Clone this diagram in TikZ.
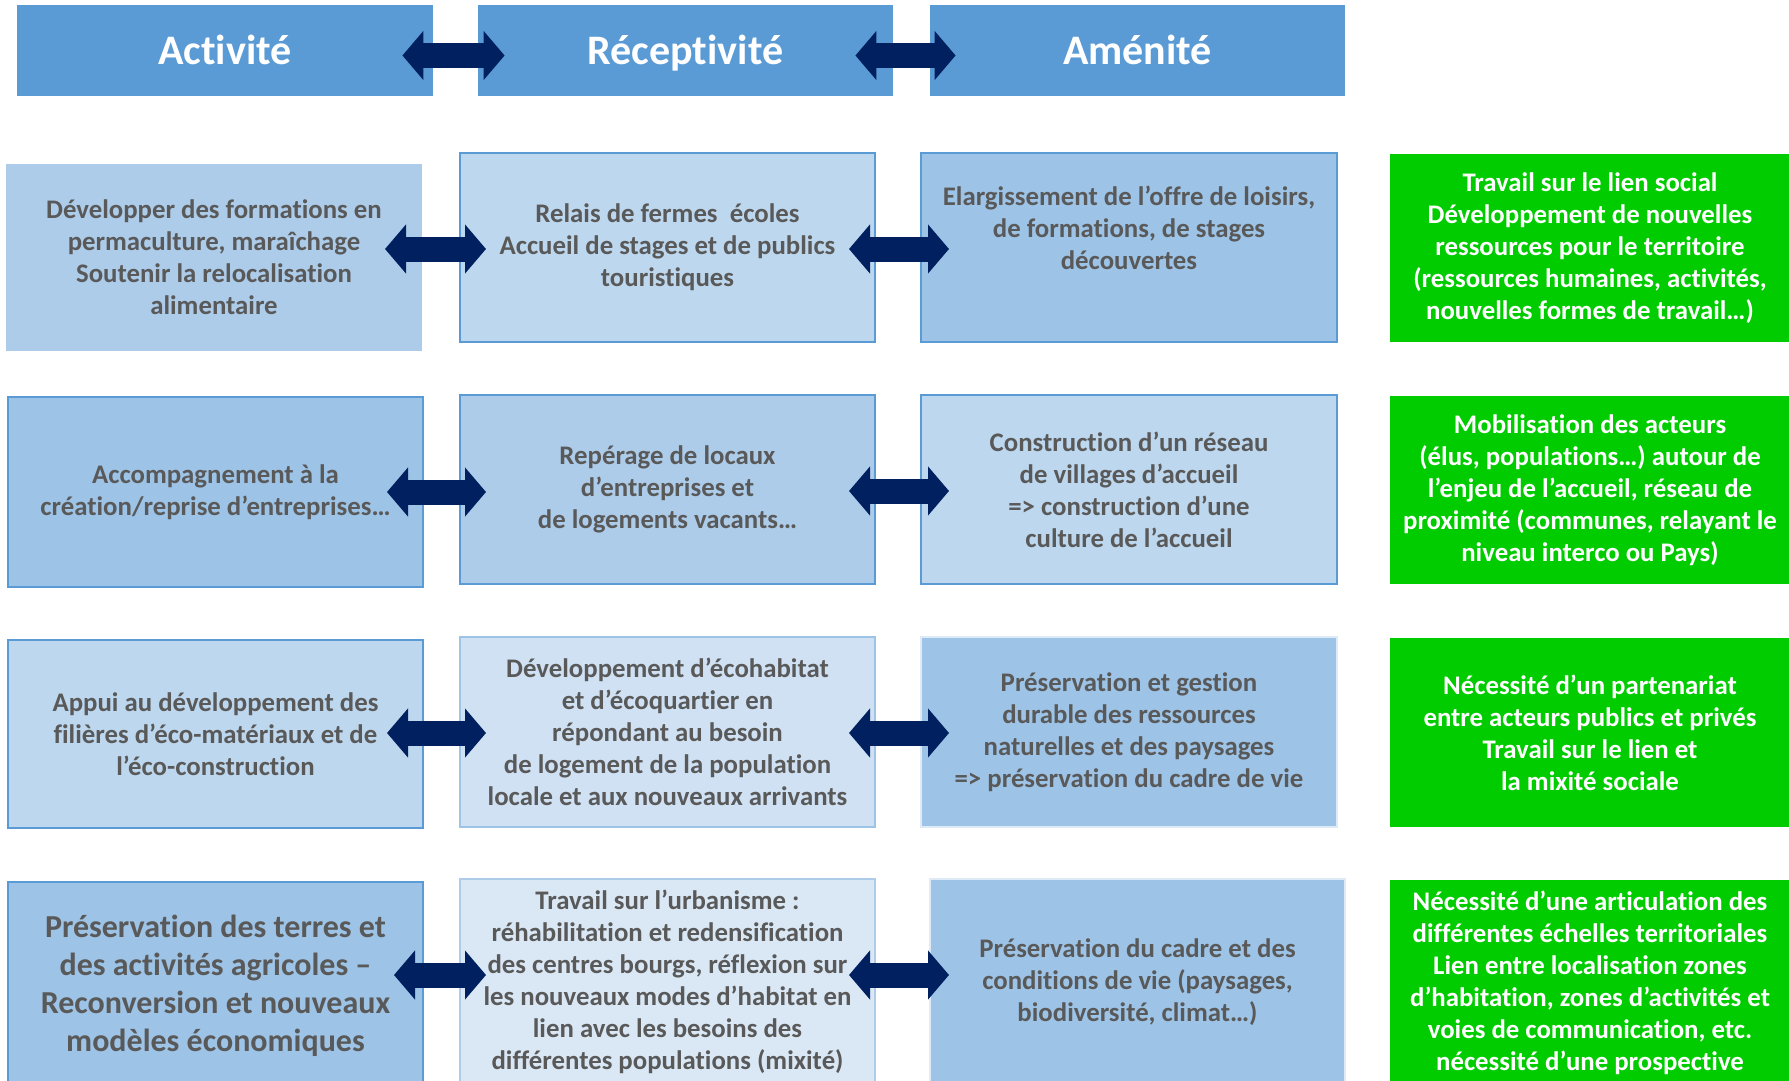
\documentclass[tikz,border=0pt]{standalone}
\usepackage{fontspec}
\setmainfont{Carlito}[Ligatures={NoCommon}]
\usetikzlibrary{arrows.meta}
\definecolor{hdr}{HTML}{5B9BD5}
\definecolor{navy}{HTML}{002060}
\definecolor{txt}{HTML}{595959}
\definecolor{grn}{HTML}{00CC00}
\definecolor{bA}{HTML}{9DC3E6}
\definecolor{bB}{HTML}{ADCCEA}
\definecolor{bC}{HTML}{BDD7EE}
\definecolor{bD}{HTML}{CFE1F3}
\definecolor{bE}{HTML}{DAE8F5}
\definecolor{bF}{HTML}{DEEBF7}
\tikzset{
  box/.style={rectangle, inner sep=0pt, align=center, text=txt,
    font=\bfseries\fontsize{13.4}{16}\selectfont, line width=1pt},
  hbox/.style={rectangle, inner sep=0pt, align=center, text=white, fill=hdr,
    font=\bfseries\fontsize{21}{25}\selectfont, minimum height=45.5pt,
    text height=17pt, text depth=2.6pt},
  gbox/.style={box, fill=grn, text=white},
  dbl/.style={draw=navy, line width=12.5pt,
    {Triangle[length=10.5pt,width=24pt]}-{Triangle[length=10.5pt,width=24pt]}},
}
\begin{document}
\begin{tikzpicture}[x=0.5pt,y=-0.5pt]
\useasboundingbox (0,0) rectangle (1789,1081);
\clip (0,0) rectangle (1789,1081);
% headers
\node[hbox, minimum width=208pt] (hAct) at (225,50.5) {Activité};
\node[hbox, minimum width=207.5pt] (hRec) at (685.5,50.5) {Réceptivité};
\node[hbox, minimum width=207.5pt] (hAme) at (1137.5,50.5) {Aménité};
% row 1
\node[box, fill=bB, minimum width=208pt, minimum height=93.5pt] (r1a) at (214,257.5)
  {Développer des formations en\\permaculture, maraîchage\\Soutenir la relocalisation\\alimentaire};
\node[box, fill=bC, draw=hdr, minimum width=207.5pt, minimum height=94.5pt] (r1b) at (667.5,247.5)
  {Relais de fermes\ \ écoles\\Accueil de stages et de publics\\touristiques};
\node[box, fill=bA, draw=hdr, minimum width=208pt, minimum height=94.5pt] (r1c) at (1129,247.5)
  {Elargissement de l’offre de loisirs,\\de formations, de stages\\découvertes\\[-1.5pt]\strut};
\node[gbox, minimum width=200pt, minimum height=94pt] (r1d) at (1590,248)
  {Travail sur le lien social\\Développement de nouvelles\\ressources pour le territoire\\(ressources humaines, activités,\\nouvelles formes de travail…)};
% row 2
\node[box, fill=bA, draw=hdr, minimum width=207.5pt, minimum height=95pt] (r2a) at (215.5,492)
  {Accompagnement à la\\création/reprise d’entreprises…};
\node[box, fill=bB, draw=hdr, minimum width=207.5pt, minimum height=94.5pt] (r2b) at (667.5,489.5)
  {Repérage de locaux\\d’entreprises et\\de logements vacants…};
\node[box, fill=bC, draw=hdr, minimum width=208pt, minimum height=94.5pt] (r2c) at (1129,489.5)
  {Construction d’un réseau\\de villages d’accueil\\=> construction d’une\\culture de l’accueil};
\node[gbox, minimum width=200pt, minimum height=94pt] (r2d) at (1590,490)
  {Mobilisation des acteurs\\(élus, populations…) autour de\\l’enjeu de l’accueil, réseau de\\proximité (communes, relayant le\\niveau interco ou Pays)};
% row 3
\node[box, fill=bC, draw=hdr, minimum width=207.5pt, minimum height=94pt] (r3a) at (215.5,734)
  {Appui au développement des\\filières d’éco-matériaux et de\\l’éco-construction};
\node[box, fill=bD, draw=bA, minimum width=207.5pt, minimum height=95pt] (r3b) at (667.5,732)
  {Développement d’écohabitat\\et d’écoquartier en\\répondant au besoin\\de logement de la population\\locale et aux nouveaux arrivants};
\node[box, fill=bA, draw=bF, minimum width=208pt, minimum height=95pt] (r3c) at (1129,732)
  {Préservation et gestion\\durable des ressources\\naturelles et des paysages\\=> préservation du cadre de vie};
\node[gbox, minimum width=200pt, minimum height=94.5pt] (r3d) at (1590,732.5)
  {Nécessité d’un partenariat\\entre acteurs publics et privés\\Travail sur le lien et\\la mixité sociale};
% row 4
\node[box, fill=bA, draw=hdr, minimum width=207.5pt, minimum height=104pt,
  font=\bfseries\fontsize{16}{19}\selectfont] (r4a) at (215.5,986)
  {Préservation des terres et\\des activités agricoles –\\Reconversion et nouveaux\\modèles économiques};
\node[box, fill=bE, draw=bB, minimum width=207.5pt, minimum height=103pt] (r4b) at (667.5,982)
  {Travail sur l’urbanisme :\\réhabilitation et redensification\\des centres bourgs, réflexion sur\\les nouveaux modes d’habitat en\\lien avec les besoins des\\différentes populations (mixité)};
\node[box, fill=bA, draw=bF, minimum width=207.5pt, minimum height=103pt] (r4c) at (1137.5,982)
  {Préservation du cadre et des\\conditions de vie (paysages,\\biodiversité, climat…)};
\node[gbox, minimum width=200pt, minimum height=102.5pt] (r4d) at (1590,982.5)
  {Nécessité d’une articulation des\\différentes échelles territoriales\\Lien entre localisation zones\\d’habitation, zones d’activités et\\voies de communication, etc.\\nécessité d’une prospective};
% arrows
\draw[dbl] ([shift={(-31,5)}]hAct.east) -- ([shift={(27,5)}]hRec.west);
\draw[dbl] ([shift={(-38,5)}]hRec.east) -- ([shift={(26,5)}]hAme.west);
\draw[dbl] ([shift={(-38,-8.5)}]r1a.east) -- ([shift={(27,1.5)}]r1b.west);
\draw[dbl] ([shift={(-27,1.5)}]r1b.east) -- ([shift={(29,1.5)}]r1c.west);
\draw[dbl] ([shift={(-37,0)}]r2a.east) -- ([shift={(27,2.5)}]r2b.west);
\draw[dbl] ([shift={(-27,1.5)}]r2b.east) -- ([shift={(29,1.5)}]r2c.west);
\draw[dbl] ([shift={(-37,-1)}]r3a.east) -- ([shift={(27,1)}]r3b.west);
\draw[dbl] ([shift={(-27,1)}]r3b.east) -- ([shift={(29,1)}]r3c.west);
\draw[dbl] ([shift={(-30,-11)}]r4a.east) -- ([shift={(27,-7)}]r4b.west);
\draw[dbl] ([shift={(-27,-7)}]r4b.east) -- ([shift={(20,-7)}]r4c.west);
\end{tikzpicture}
\end{document}
